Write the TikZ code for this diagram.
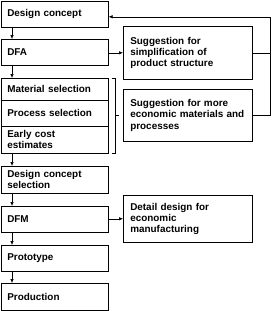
\documentclass[tikz,border=0pt]{standalone}
\usepackage{fontspec}
\setmainfont{Liberation Sans}
\usetikzlibrary{arrows.meta}
\tikzset{
  lbox/.style={draw, line width=0.6pt, anchor=north west, minimum width=107pt, text width=95pt, inner xsep=6pt, inner ysep=0pt, align=left, font=\bfseries\fontsize{9.9}{11}\selectfont},
  rbox/.style={draw, line width=0.6pt, anchor=north west, minimum width=129pt, text width=115pt, inner xsep=7pt, inner ysep=0pt, align=left, font=\bfseries\fontsize{9.9}{11.3}\selectfont},
  arr/.style={line width=0.6pt, -{Latex[length=4pt,width=3.5pt]}},
  ln/.style={line width=0.6pt}
}
\begin{document}
\begin{tikzpicture}[x=1pt,y=-1pt]
\useasboundingbox (0,0) rectangle (272,311);
\node[lbox, minimum height=26pt] (dc) at (1,1) {Design concept};
\node[lbox, minimum height=26pt] (dfa) at (1,39) {DFA};
\node[lbox, minimum height=22pt] (ms) at (1,78) {Material selection};
\node[lbox, minimum height=26pt] (ps) at (1,100) {Process selection};
\node[lbox, minimum height=27pt] (ec) at (1,126) {Early cost\\estimates};
\node[lbox, minimum height=27pt] (dcs) at (1,166) {Design concept\\selection};
\node[lbox, minimum height=26pt] (dfm) at (1,206) {DFM};
\node[lbox, minimum height=26pt] (pro) at (1,245) {Prototype};
\node[lbox, minimum height=27pt] (prd) at (1,283) {Production};
\node[rbox, minimum height=53pt] (s1) at (123,26) {Suggestion for\\simplification of\\product structure};
\node[rbox, minimum height=52pt] (s2) at (123,89) {Suggestion for more\\economic materials and\\processes};
\node[rbox, minimum height=47pt] (dd) at (123,195) {Detail design for\\economic\\manufacturing};
\coordinate (ax) at (12,0);
\coordinate (fbx) at (270,0);
\draw[arr] (dc.south -| ax) -- (dfa.north -| ax);
\draw[arr] (dfa.south -| ax) -- (ms.north -| ax);
\draw[arr] (ec.south -| ax) -- (dcs.north -| ax);
\draw[arr] (dcs.south -| ax) -- (dfm.north -| ax);
\draw[arr] (dfm.south -| ax) -- (pro.north -| ax);
\draw[arr] (pro.south -| ax) -- (prd.north -| ax);
\draw[arr] (dfa.east |- s1.east) -- (s1.west);
\draw[arr] (dfm.east |- dd.west) -- (dd.west);
\draw[ln] (s1.east) -- (s1.east -| fbx);
\draw[arr] (s2.east) -| ([yshift=-2.5pt]fbx |- dc.east) -- ([yshift=-2.5pt]dc.east);
\coordinate (bt) at ([xshift=3pt]ms.north east);
\coordinate (bb) at ([xshift=3pt]ec.south east);
\draw[ln] (bt) -- ++(4,0) -- ([xshift=4pt]bb) -- (bb);
\draw[ln] ([xshift=4pt]bt |- s2.east) -- ++(3,0);
\end{tikzpicture}
\end{document}
